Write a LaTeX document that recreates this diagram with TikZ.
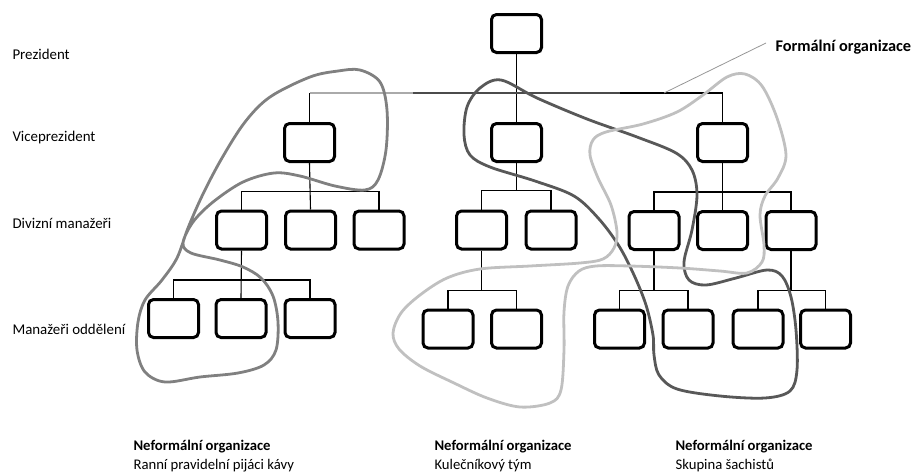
\documentclass[tikz,border=0pt]{standalone}
\usepackage{fontspec}
\setmainfont{Carlito}
\usetikzlibrary{calc}
\begin{document}
\begin{tikzpicture}[x=1pt,y=-1pt,
  unit/.style={draw=black,line width=3pt,rounded corners=5pt,minimum width=50pt,minimum height=38pt,inner sep=0pt},
  link/.style={draw=black,line width=1.1pt},
  lvl/.style={anchor=west,font=\fontsize{14.9}{17}\selectfont},
  caption/.style={anchor=north west,align=left,font=\fontsize{14.7}{18.5}\selectfont},
  blob/.style={line width=2.8pt,line join=round},
  grpA/.style={blob,draw={rgb,255:red,128;green,128;blue,128}},
  grpB/.style={blob,draw={rgb,255:red,88;green,88;blue,88}},
  grpC/.style={blob,draw={rgb,255:red,192;green,192;blue,192}}]
\useasboundingbox (0,0) rectangle (914,472);

% level labels
\node[lvl] (l1) at (9,54) {Prezident};
\node[lvl] (l2) at (9,138) {Viceprezident};
\node[lvl] (l3) at (9,223) {Divizní manažeři};
\node[lvl] (l4) at (9,329) {Manažeři oddělení};

% president and vice presidents
\node[unit] (P) at (516.5,33.5) {};
\node[unit] (V1) at (309.5,142.5) {};
\node[unit] (V2) at (516.5,142.5) {};
\node[unit] (V3) at (722.5,142.5) {};

% division managers
\node[unit] (D1) at (241.5,230) {};
\node[unit] (D2) at (310.5,230) {};
\node[unit] (D3) at (379,230) {};
\node[unit] (D4) at (481.5,230) {};
\node[unit] (D5) at (551,230) {};
\node[unit] (D6) at (654,230.5) {};
\node[unit] (D7) at (722.5,230.5) {};
\node[unit] (D8) at (791,230.5) {};

% department managers
\node[unit] (M1) at (173.5,318.5) {};
\node[unit] (M2) at (241,318.5) {};
\node[unit] (M3) at (310,318.5) {};
\node[unit] (M4) at (448,329) {};
\node[unit] (M5) at (516.5,329) {};
\node[unit] (M6) at (619.5,329) {};
\node[unit] (M7) at (688,329) {};
\node[unit] (M8) at (758,329) {};
\node[unit] (M9) at (825.5,329) {};

% bus coordinates
\coordinate (b0a) at (413,93);
\coordinate (b0b) at (620,93);
\coordinate (b0c) at (664,93);

% top bar
\draw[link] (P.south) -- (V2.north);
\draw[link] (V1.north) -- (V1.north |- b0a);
\draw[link,draw={rgb,255:red,170;green,170;blue,170}] (V1.north |- b0a) -- (b0a);
\draw[link,draw={rgb,255:red,75;green,75;blue,75}] (b0a) -- (b0b);
\draw[link] (b0b) -| (V3.north);

% vice presidents to division managers
\draw[link] (V1.south) -- (D2.north);
\draw[link] (D1.north) |- ($(D1.north)+(0,-18)$) -| (D3.north);
\draw[link] (V2.south) |- ($(D4.north)+(0,-19)$) -| (D4.north);
\draw[link] ($(D4.north)+(0,-19)$) -| (D5.north);
\draw[link] (V3.south) -- (D7.north);
\draw[link] (D6.north) |- ($(D6.north)+(0,-18)$) -| (D8.north);

% division managers to department managers
\draw[link] (D1.south) -- (M2.north);
\draw[link] (M1.north) |- ($(M1.north)+(0,-18)$) -| (M3.north);
\draw[link] (D4.south) |- ($(M4.north)+(0,-18)$) -| (M4.north);
\draw[link] ($(M4.north)+(0,-18)$) -| (M5.north);
\draw[link] (D6.south) |- ($(M6.north)+(0,-18)$) -| (M6.north);
\draw[link] ($(M6.north)+(0,-18)$) -| (M7.north);
\draw[link] (D8.south) |- ($(M8.north)+(0,-18)$) -| (M8.north);
\draw[link] ($(M8.north)+(0,-18)$) -| (M9.north);

% formal organisation label and pointer
\node[anchor=west,font=\fontsize{16.3}{19}\selectfont\bfseries] (formal) at (772,47) {Formální organizace};
\coordinate (ptr) at (766,43);
\draw[line width=0.8pt,draw={rgb,255:red,150;green,150;blue,150}] (ptr) -- (b0c);

% informal groups
\draw[grpA] plot[smooth cycle,tension=0.55] coordinates {
  (360,70) (380,82) (387,110) (386,150) (378,180) (365,190) (335,186)
  (300,176) (274,173) (243,182) (213,202) (193,222) (183,243) (191,253)
  (220,260) (243,267) (261,278) (273,296) (278,322) (276,350) (264,365)
  (238,373) (200,377) (165,382) (145,372) (137,350) (138,322) (145,300)
  (162,280) (177,258) (188,228) (203,194) (222,158) (245,122) (270,97)
  (310,77) (338,71)};

\draw[grpB] plot[smooth cycle,tension=0.55] coordinates {
  (501,80) (537,98) (587,119) (637,137) (676,153) (692,170) (697,195)
  (692,230) (684,262) (689,280) (706,285) (736,278) (767,270) (782,276)
  (791,297) (796,330) (797,370) (790,391) (765,398) (720,396) (677,389)
  (659,375) (654,355) (653,335) (646,305) (634,275) (619,246) (599,219)
  (574,196) (535,181) (490,167) (470,155) (464,135) (467,107) (480,88)};

\draw[grpC] plot[smooth cycle,tension=0.55] coordinates {
  (747,273) (720,271) (680,268) (630,266) (596,266) (579,271) (568,286)
  (564,312) (564,350) (561,390) (550,403) (520,407) (487,398) (454,383)
  (420,366) (399,349) (393,333) (401,313) (420,295) (447,278) (480,269)
  (530,266) (580,263) (603,259) (614,248) (617,232) (611,205) (598,178)
  (590,155) (593,140) (606,132) (643,124) (677,112) (703,95) (727,77)
  (745,74) (762,86) (777,118) (786,155) (778,178) (765,196) (760,215)
  (764,245) (762,262)};

% captions of the informal groups
\node[caption] (c1) at (130,437) {\textbf{Neformální organizace}\\Ranní pravidelní pijáci kávy};
\node[caption] (c2) at (431,437) {\textbf{Neformální organizace}\\Kulečníkový tým};
\node[caption] (c3) at (672,437) {\textbf{Neformální organizace}\\Skupina šachistů};
\end{tikzpicture}
\end{document}
